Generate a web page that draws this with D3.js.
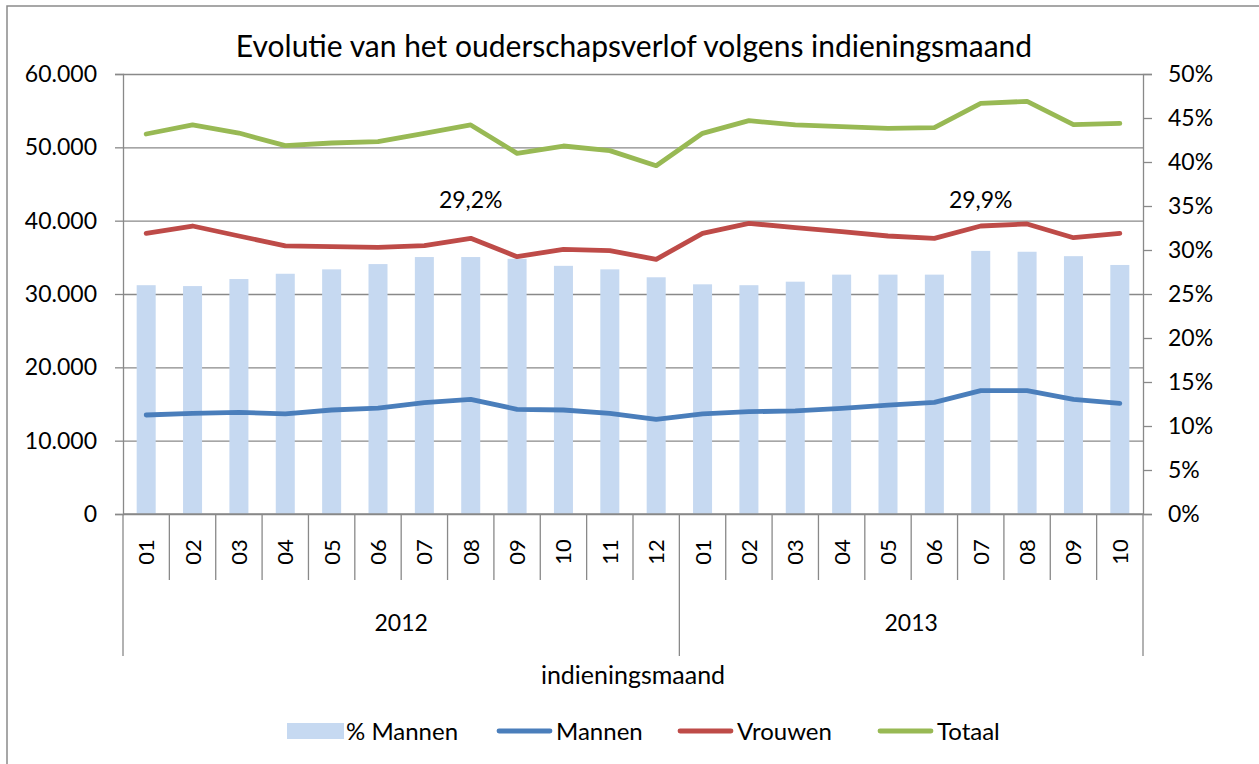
<!DOCTYPE html>
<html>
<head>
<meta charset="utf-8">
<script src="https://cdn.jsdelivr.net/npm/d3@7"></script>
<style>
  body { margin: 0; background: #fff; }
  svg text { font-family: Lato, "Open Sans", sans-serif; fill: #000; }
</style>
</head>
<body>
<svg id="chart" width="1259" height="764"></svg>
<script>
// ---------------------------------------------------------------------
// data
var months = ["01","02","03","04","05","06","07","08","09","10","11","12",
              "01","02","03","04","05","06","07","08","09","10"];
var years = ["2012", "2013"];
var yearLength = [12, 10];

var pctMannen = [0.260, 0.259, 0.267, 0.273, 0.278, 0.284, 0.292, 0.292, 0.290, 0.282, 0.278, 0.269,
                 0.261, 0.260, 0.264, 0.272, 0.272, 0.272, 0.299, 0.298, 0.293, 0.283];
var mannen  = [13500, 13730, 13860, 13640, 14180, 14450, 15180, 15640, 14270, 14180, 13730, 12910,
               13640, 13950, 14050, 14410, 14860, 15230, 16820, 16820, 15640, 15090];
var vrouwen = [38270, 39270, 37910, 36550, 36450, 36360, 36590, 37590, 35090, 36090, 35910, 34730,
               38270, 39640, 39050, 38500, 37910, 37590, 39270, 39550, 37680, 38270];
var totaal  = [51820, 53050, 51950, 50230, 50590, 50770, 51900, 53050, 49180, 50180, 49550, 47500,
               51910, 53640, 53050, 52820, 52590, 52680, 56000, 56270, 53090, 53270];

var leftTicks = [0, 10000, 20000, 30000, 40000, 50000, 60000];
var rightTicks = [0, 0.05, 0.10, 0.15, 0.20, 0.25, 0.30, 0.35, 0.40, 0.45, 0.50];

// labels shown on the bars
var labelIndex = [7, 18];
var labelText = ["29,2%", "29,9%"];

var title = "Evolutie van het ouderschapsverlof volgens indieningsmaand";
var xTitle = "indieningsmaand";

// ---------------------------------------------------------------------
// layout
var plotL = 123, plotR = 1143, plotT = 74, plotB = 514;
var gridColor = "#898989";
var colors = { bar: "#c6d9f1", mannen: "#4a7ebb", vrouwen: "#be4b48", totaal: "#98b954" };

var svg = d3.select("#chart");

var nl = d3.formatLocale({ decimal: ",", thousands: ".", grouping: [3], currency: ["€", ""] });
var fmtNum = nl.format(",d");

var x = d3.scaleBand().domain(d3.range(months.length)).range([plotL, plotR]).padding(0);
var yL = d3.scaleLinear().domain([0, 60000]).range([plotB, plotT]);
var yR = d3.scaleLinear().domain([0, 0.5]).range([plotB, plotT]);

// outer chart border
svg.append("rect")
  .attr("x", 7).attr("y", 6).attr("width", 1270).attr("height", 780)
  .attr("fill", "none").attr("stroke", "#8a8a8a").attr("stroke-width", 1.5);

// title
svg.append("text")
  .attr("x", 634).attr("y", 57)
  .attr("text-anchor", "middle")
  .style("font-size", "30px")
  .text(title);

// gridlines
svg.append("g")
  .attr("transform", "translate(" + plotL + ",0)")
  .call(d3.axisLeft(yL).tickValues(leftTicks).tickSize(-(plotR - plotL)).tickFormat(""))
  .call(function (g) {
    g.select(".domain").remove();
    g.selectAll("line").attr("stroke", gridColor).attr("stroke-width", 1.3);
  });

// bars
var bw = x.bandwidth() * 0.41;
svg.append("g").selectAll("rect")
  .data(pctMannen)
  .enter()
  .append("rect")
  .attr("x", function (d, i) { return x(i) + (x.bandwidth() - bw) / 2; })
  .attr("y", function (d) { return yR(d); })
  .attr("width", bw)
  .attr("height", function (d) { return yR(0) - yR(d); })
  .attr("fill", colors.bar);

// lines
var line = d3.line()
  .x(function (d, i) { return x(i) + x.bandwidth() / 2; })
  .y(function (d) { return yL(d); });

[[totaal, colors.totaal], [vrouwen, colors.vrouwen], [mannen, colors.mannen]].forEach(function (s) {
  svg.append("path")
    .datum(s[0])
    .attr("d", line)
    .attr("fill", "none")
    .attr("stroke", s[1])
    .attr("stroke-width", 4.8)
    .attr("stroke-linejoin", "round")
    .attr("stroke-linecap", "round");
});

// data labels
svg.append("g").selectAll("text")
  .data(labelIndex)
  .enter()
  .append("text")
  .attr("x", function (d) { return x(d) + x.bandwidth() / 2; })
  .attr("y", yR(0.357) + 8)
  .attr("text-anchor", "middle")
  .style("font-size", "23px")
  .text(function (d, i) { return labelText[i]; });

// left axis
svg.append("g")
  .attr("transform", "translate(" + plotL + ",0)")
  .call(d3.axisLeft(yL).tickValues(leftTicks).tickSize(8).tickPadding(18).tickFormat(fmtNum))
  .call(function (g) {
    g.select(".domain").attr("stroke", gridColor).attr("stroke-width", 1.3);
    g.selectAll("line").attr("stroke", gridColor).attr("stroke-width", 1.3);
    g.selectAll("text").style("font-size", "23px").attr("fill", "#000");
  });

// right axis
svg.append("g")
  .attr("transform", "translate(" + plotR + ",0)")
  .call(d3.axisRight(yR).tickValues(rightTicks).tickSize(9).tickPadding(16)
    .tickFormat(function (d) { return Math.round(d * 100) + "%"; }))
  .call(function (g) {
    g.select(".domain").attr("stroke", gridColor).attr("stroke-width", 1.3);
    g.selectAll("line").attr("stroke", gridColor).attr("stroke-width", 1.3);
    g.selectAll("text").style("font-size", "23px").attr("fill", "#000");
  });

// category axis (months + years)
var cat = svg.append("g");
cat.append("line")
  .attr("x1", plotL).attr("x2", plotR).attr("y1", plotB).attr("y2", plotB)
  .attr("stroke", gridColor).attr("stroke-width", 1.3);

cat.selectAll(".tick-short")
  .data(d3.range(months.length + 1))
  .enter()
  .append("line")
  .attr("x1", function (d) { return d < months.length ? x(d) : plotR; })
  .attr("x2", function (d) { return d < months.length ? x(d) : plotR; })
  .attr("y1", plotB).attr("y2", 580)
  .attr("stroke", gridColor).attr("stroke-width", 1.3);

cat.selectAll(".month")
  .data(months)
  .enter()
  .append("text")
  .attr("transform", function (d, i) {
    return "translate(" + (x(i) + x.bandwidth() / 2 + 8) + ",552) rotate(-90)";
  })
  .attr("text-anchor", "middle")
  .style("font-size", "22px")
  .text(function (d) { return d; });

var yearStart = [0, yearLength[0]];
var yearEdges = [0, yearLength[0], yearLength[0] + yearLength[1]];
cat.selectAll(".yearline")
  .data(yearEdges)
  .enter()
  .append("line")
  .attr("x1", function (d) { return d < months.length ? x(d) : plotR; })
  .attr("x2", function (d) { return d < months.length ? x(d) : plotR; })
  .attr("y1", 580).attr("y2", 656)
  .attr("stroke", gridColor).attr("stroke-width", 1.3);

cat.selectAll(".year")
  .data(years)
  .enter()
  .append("text")
  .attr("x", function (d, i) {
    var a = x(yearStart[i]);
    var b = x(yearStart[i] + yearLength[i] - 1) + x.bandwidth();
    return (a + b) / 2;
  })
  .attr("y", 631)
  .attr("text-anchor", "middle")
  .style("font-size", "23px")
  .text(function (d) { return d; });

svg.append("text")
  .attr("x", 633).attr("y", 684)
  .attr("text-anchor", "middle")
  .style("font-size", "25px")
  .text(xTitle);

// legend
var legendNames = ["% Mannen", "Mannen", "Vrouwen", "Totaal"];
var legendColors = [colors.bar, colors.mannen, colors.vrouwen, colors.totaal];
var legendX = [287, 497, 678, 878];
var lg = svg.append("g").selectAll("g")
  .data(legendNames)
  .enter()
  .append("g")
  .attr("transform", function (d, i) { return "translate(" + legendX[i] + ",731)"; });

lg.each(function (d, i) {
  var g = d3.select(this);
  if (i === 0) {
    g.append("rect").attr("x", 0).attr("y", -8).attr("width", 57).attr("height", 16)
      .attr("fill", legendColors[i]);
  } else {
    g.append("line").attr("x1", 2).attr("x2", 53).attr("y1", 0).attr("y2", 0)
      .attr("stroke", legendColors[i]).attr("stroke-width", 4.8).attr("stroke-linecap", "round");
  }
  g.append("text").attr("x", 59).attr("y", 9)
    .style("font-size", "24px")
    .text(d);
});
</script>
</body>
</html>
